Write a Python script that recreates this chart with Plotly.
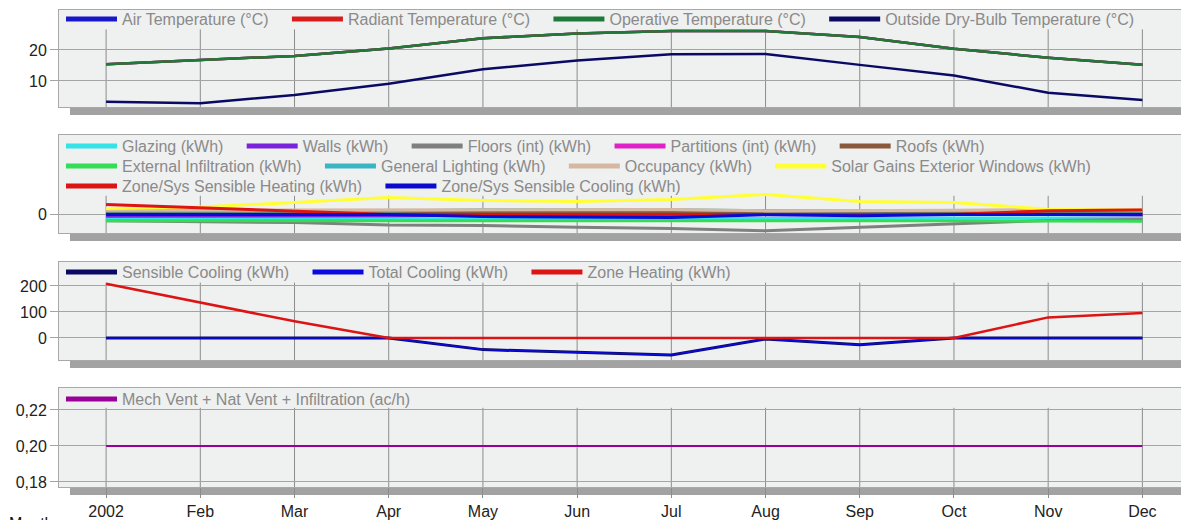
import plotly.graph_objects as go

# ---------------- data ----------------
months = ["2002", "Feb", "Mar", "Apr", "May", "Jun", "Jul", "Aug", "Sep", "Oct", "Nov", "Dec"]
month_idx = list(range(len(months)))

# Panel 1 - temperatures (°C)
air_temp = [15.4, 16.7, 18.1, 20.5, 23.8, 25.3, 26.1, 26.1, 24.2, 20.4, 17.5, 15.2]
radiant_temp = [15.4, 16.7, 18.1, 20.5, 23.8, 25.3, 26.1, 26.1, 24.2, 20.4, 17.5, 15.2]
operative_temp = [15.4, 16.7, 18.1, 20.5, 23.8, 25.3, 26.1, 26.1, 24.2, 20.4, 17.5, 15.2]
outside_drybulb = [3.3, 2.8, 5.5, 9.1, 13.8, 16.6, 18.6, 18.7, 15.2, 11.8, 6.2, 3.9]

# Panel 2 - heat balance (kWh)
glazing = [-80, -78, -75, -85, -95, -95, -95, -90, -85, -75, -70, -75]
walls = [-40, -40, -35, -25, -15, -5, 0, 5, 10, 10, 5, -10]
floors = [-135, -145, -170, -224, -230, -270, -294, -343, -273, -203, -126, -105]
partitions = [55, 55, 63, 63, 42, 42, 42, 40, 40, 45, 52, 52]
roofs = [20, 20, 20, 20, 25, 25, 25, 25, 20, 20, 20, 20]
ext_infiltration = [-135, -135, -135, -130, -125, -125, -120, -120, -125, -130, -140, -145]
general_lighting = [75, 75, 72, 70, 100, 100, 100, 80, 75, 72, 75, 75]
occupancy = [88, 90, 92, 95, 105, 105, 103, 75, 75, 90, 105, 100]
solar_gains = [126, 158, 252, 357, 294, 273, 315, 420, 273, 252, 111, 90]
sys_heating = [208, 135, 64, 0, 0, 0, 0, 0, 0, 0, 79, 96]
sys_cooling = [0, 0, 0, 0, -45, -56, -66, -4, -26, 0, 0, 0]

# Panel 3 - heating / cooling (kWh)
sensible_cooling = [0, 0, 0, 0, -45, -56, -66, -4, -26, 0, 0, 0]
total_cooling = [0, 0, 0, 0, -45, -56, -66, -4, -26, 0, 0, 0]
zone_heating = [208, 135, 64, 0, 0, 0, 0, 0, 0, 0, 79, 96]

# Panel 4 - air changes (ac/h)
vent_infiltration = [0.20, 0.20, 0.20, 0.20, 0.20, 0.20, 0.20, 0.20, 0.20, 0.20, 0.20, 0.20]

# ---------------- styling ----------------
FONT = "Liberation Sans, Arial, sans-serif"
GRID = "#a4a4a4"
VGRID = "#8c8c8c"
PLOT_BG = "#eff0f0"
PAD = "\u00a0\u00a0\u00a0"   # extra spacing after each legend entry

TOP = 10.0
PLOT_H = 477.0
PLOT_W = 1122.0

panels = [
    # (domain, yrange, tickvals, gridline top fraction)
    ([0.7966, 1.0], [1.6, 32.9], [10, 20], 0.80),
    ([0.5325, 0.7379], [-390, 1670], [0], 0.38),
    ([0.2662, 0.4717], [-85, 292], [0, 100, 200], 0.79),
    ([0.0, 0.2075], [0.1772, 0.2322], [0.18, 0.20, 0.22], 0.80),
]

# legend id -> wanted screen y of the top of the legend box
legend_rows = {
    "legend": 2,
    "legend2": 129,
    "legend3": 149,
    "legend4": 169,
    "legend5": 255,
    "legend6": 382,
}

series = [
    # panel, legend, name, values, color, width
    (1, "legend", "Air Temperature (°C)", air_temp, "#1818c8", 2.5),
    (1, "legend", "Radiant Temperature (°C)", radiant_temp, "#d81c1c", 2.5),
    (1, "legend", "Operative Temperature (°C)", operative_temp, "#1f7a3a", 2.5),
    (1, "legend", "Outside Dry-Bulb Temperature (°C)", outside_drybulb, "#0a0a64", 2.5),
    (2, "legend2", "Glazing (kWh)", glazing, "#33e3e8", 3),
    (2, "legend2", "Walls (kWh)", walls, "#7a22dc", 3),
    (2, "legend2", "Floors (int) (kWh)", floors, "#7f7f7f", 3),
    (2, "legend2", "Partitions (int) (kWh)", partitions, "#e020c8", 3),
    (2, "legend2", "Roofs (kWh)", roofs, "#8b5a3c", 3),
    (2, "legend3", "External Infiltration (kWh)", ext_infiltration, "#33dd55", 3),
    (2, "legend3", "General Lighting (kWh)", general_lighting, "#3ab5c2", 3),
    (2, "legend3", "Occupancy (kWh)", occupancy, "#d6b8a2", 3),
    (2, "legend3", "Solar Gains Exterior Windows (kWh)", solar_gains, "#ffff33", 3),
    (2, "legend4", "Zone/Sys Sensible Heating (kWh)", sys_heating, "#dd1414", 3),
    (2, "legend4", "Zone/Sys Sensible Cooling (kWh)", sys_cooling, "#0a0ad0", 3),
    (3, "legend5", "Sensible Cooling (kWh)", sensible_cooling, "#0a0a64", 3),
    (3, "legend5", "Total Cooling (kWh)", total_cooling, "#0a0ae0", 1.5),
    (3, "legend5", "Zone Heating (kWh)", zone_heating, "#dd1414", 2.5),
    (4, "legend6", "Mech Vent + Nat Vent + Infiltration (ac/h)", vent_infiltration, "#990099", 2),
]

fig = go.Figure()
for p, leg, name, vals, color, w in series:
    sfx = "" if p == 1 else str(p)
    fig.add_trace(go.Scatter(
        x=month_idx, y=vals, mode="lines", name=name,
        line=dict(color=color, width=w),
        xaxis="x" + sfx, yaxis="y" + sfx, showlegend=False,
        hoverinfo="skip"))
    # legend proxy with a thick sample line
    fig.add_trace(go.Scatter(
        x=[None], y=[None], mode="lines", name=name + PAD,
        line=dict(color=color, width=5),
        xaxis="x" + sfx, yaxis="y" + sfx, showlegend=True,
        legend=leg))

layout = dict(
    width=1181, height=520,
    margin=dict(l=59, r=0, t=10, b=33),
    paper_bgcolor="white", plot_bgcolor=PLOT_BG,
    separators=",.",
    font=dict(family=FONT, size=16, color="#222222"),
    showlegend=True,
    hovermode=False,
)

shapes = []
for i, (dom, yr, tv, gtop) in enumerate(panels, start=1):
    sfx = "" if i == 1 else str(i)
    xa = dict(
        domain=[0, 1], range=[-0.5, 11.41], anchor="y" + sfx,
        tickvals=month_idx, ticktext=months,
        showgrid=False, zeroline=False,
        showline=True, mirror=True, linecolor="#a8a8a8", linewidth=1,
        showticklabels=(i == 4),
        ticks="outside" if i == 4 else "", ticklen=10, tickcolor="#8c8c8c",
        tickfont=dict(family=FONT, size=16, color="#222222"),
    )
    ya = dict(
        domain=dom, range=yr, anchor="x" + sfx,
        tickvals=tv, showgrid=True, gridcolor=GRID, gridwidth=1,
        zeroline=False, showline=True, mirror=True, linecolor="#a8a8a8",
        ticks="outside", ticklen=8, tickcolor=GRID,
        tickfont=dict(family=FONT, size=16, color="#222222"),
    )
    if i == 4:
        ya["tickformat"] = ".2f"
    layout["xaxis" + sfx] = xa
    layout["yaxis" + sfx] = ya

    # vertical month gridlines stopping below the legend
    for m in month_idx:
        shapes.append(dict(type="line", xref="x" + sfx, yref="y" + sfx + " domain",
                           x0=m, x1=m, y0=0, y1=gtop, layer="below",
                           line=dict(color=VGRID, width=1)))
    # drop shadow strip under each panel
    shapes.append(dict(type="rect", xref="paper", yref="paper",
                       x0=11 / PLOT_W, x1=1.0, y0=dom[0] - 8 / PLOT_H, y1=dom[0] - 0.5 / PLOT_H,
                       layer="below", fillcolor="#a2a2a2", line=dict(width=0)))

for leg, top_px in legend_rows.items():
    layout[leg] = dict(
        x=2 / PLOT_W, y=1 - (top_px - TOP) / PLOT_H, xref="paper", yref="paper",
        xanchor="left", yanchor="top", orientation="h",
        bgcolor="rgba(0,0,0,0)", borderwidth=0, itemwidth=51,
        font=dict(family=FONT, size=16, color="#8a8a8a"),
        itemclick=False, itemdoubleclick=False,
    )

layout["shapes"] = shapes
layout["annotations"] = [dict(
    text="Month", xref="paper", yref="paper", x=-52 / PLOT_W, y=-26 / PLOT_H,
    xanchor="left", yanchor="top", showarrow=False,
    font=dict(family=FONT, size=16, color="#111111"))]

fig.update_layout(**layout)
fig.write_html("out.html",
               config={"displayModeBar": False, "staticPlot": True},
               post_script="document.body.style.margin='0';document.body.style.overflow='hidden';")
